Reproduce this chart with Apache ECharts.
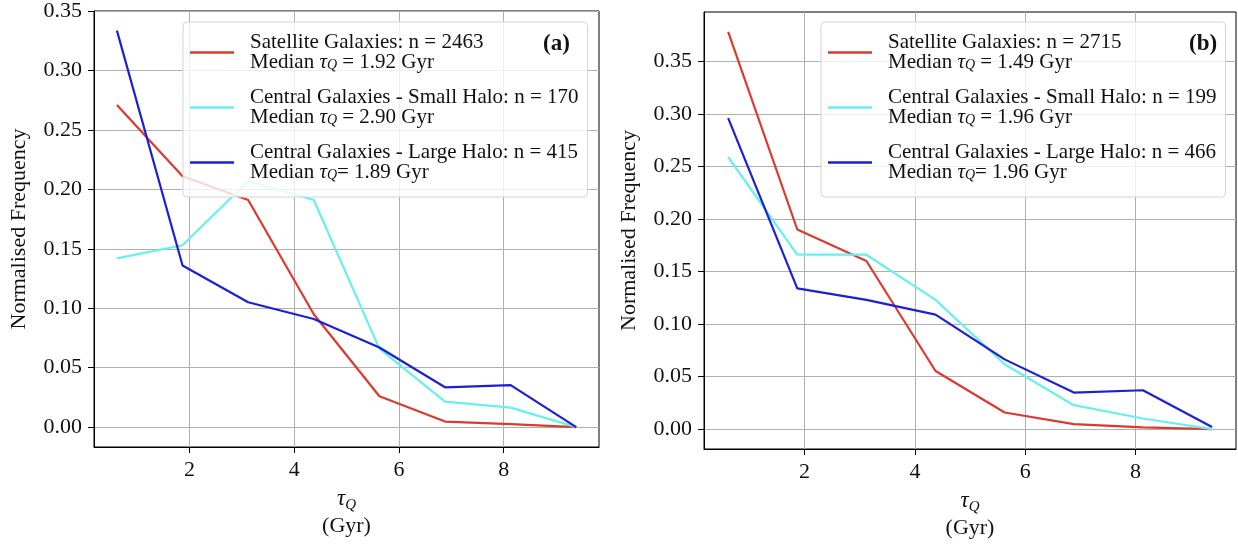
<!DOCTYPE html>
<html><head><meta charset="utf-8">
<script src="https://cdn.jsdelivr.net/npm/echarts@6/dist/echarts.min.js"></script>
<style>html,body{margin:0;padding:0;background:#fff}#c{width:1238px;height:550px}</style>
</head><body><div id="c"></div>
<script>
// bin centres (Gyr)
const tauCenters = [0.615, 1.868, 3.121, 4.374, 5.627, 6.880, 8.133, 9.385];
const xTickValues = [2, 4, 6, 8];
const yTickValues = [0, 0.05, 0.10, 0.15, 0.20, 0.25, 0.30, 0.35];

// panel (a)
const satA   = [0.271, 0.211, 0.191, 0.095, 0.026, 0.0047, 0.0025, 0.0];
const smallA = [0.142, 0.153, 0.207, 0.191, 0.066, 0.0215, 0.0164, 0.0];
const largeA = [0.3335, 0.136, 0.105, 0.091, 0.067, 0.0335, 0.0354, 0.0];
// panel (b)
const satB   = [0.378, 0.190, 0.160, 0.0553, 0.0158, 0.0047, 0.0016, 0.0];
const smallB = [0.259, 0.166, 0.166, 0.123, 0.0617, 0.0228, 0.0101, 0.0];
const largeB = [0.296, 0.134, 0.123, 0.109, 0.0664, 0.0348, 0.037, 0.002];

const namesA = ['Satellite Galaxies: n = 2463', 'Central Galaxies - Small Halo: n = 170', 'Central Galaxies - Large Halo: n = 415'];
const mediansA = [' = 1.92 Gyr', ' = 2.90 Gyr', '= 1.89 Gyr'];
const namesB = ['Satellite Galaxies: n = 2715', 'Central Galaxies - Small Halo: n = 199', 'Central Galaxies - Large Halo: n = 466'];
const mediansB = [' = 1.49 Gyr', ' = 1.96 Gyr', '= 1.96 Gyr'];
const panelTags = ['(a)', '(b)'];

const colors = ['#dc3a2e', '#66f0f0', '#1b20d4'];
const FONT = '"Liberation Serif", "Times New Roman", serif';

const medianOf = {};
namesA.forEach((n, i) => medianOf[n] = mediansA[i]);
namesB.forEach((n, i) => medianOf[n] = mediansB[i]);

const pair = (ys) => tauCenters.map((x, i) => [x, ys[i]]);

function xAxisDef(gi) {
  return {
    type: 'value', gridIndex: gi, min: 0.177, max: 9.82,
    axisLine: {show: true, onZero: false, lineStyle: {color: '#000', width: 1}},
    axisTick: {show: true, inside: false, length: 6, customValues: xTickValues, lineStyle: {color: '#000'}},
    axisLabel: {customValues: xTickValues, margin: 12, color: '#111', fontFamily: FONT, fontSize: 22},
    splitLine: {show: true, lineStyle: {color: '#b0b0b0', width: 1}},
    name: '{tau|τ}{sub|Q}\n{g|(Gyr)}',
    nameLocation: 'middle', nameGap: 38,
    nameTextStyle: {
      lineHeight: 27,
      rich: {
        tau: {fontFamily: FONT, fontStyle: 'italic', fontSize: 23, color: '#111', lineHeight: 27},
        sub: {fontFamily: FONT, fontStyle: 'italic', fontSize: 15, color: '#111', verticalAlign: 'bottom', lineHeight: 14},
        g: {fontFamily: FONT, fontSize: 22, color: '#111', lineHeight: 27}
      }
    }
  };
}
function yAxisDef(gi, min, max) {
  return {
    type: 'value', gridIndex: gi, min: min, max: max,
    axisLine: {show: true, onZero: false, lineStyle: {color: '#000', width: 1}},
    axisTick: {show: true, inside: false, length: 6, customValues: yTickValues, lineStyle: {color: '#000'}},
    axisLabel: {customValues: yTickValues, margin: 12, color: '#111', fontFamily: FONT, fontSize: 22,
      formatter: v => v.toFixed(2)},
    splitLine: {show: true, lineStyle: {color: '#b0b0b0', width: 1}},
    name: 'Normalised Frequency', nameLocation: 'middle', nameRotate: 90, nameGap: 64,
    nameTextStyle: {fontFamily: FONT, fontSize: 22, color: '#111'}
  };
}
function seriesDef(name, ys, ci, gi) {
  return {
    type: 'line', name: name, xAxisIndex: gi, yAxisIndex: gi, data: pair(ys),
    showSymbol: false, symbol: 'none', animation: false,
    lineStyle: {color: colors[ci], width: 2.2},
    itemStyle: {color: colors[ci]}
  };
}
const legendRich = {
  t: {fontFamily: FONT, fontSize: 21, color: '#111', lineHeight: 20},
  tau: {fontFamily: FONT, fontStyle: 'italic', fontSize: 21, color: '#111', lineHeight: 20},
  sub: {fontFamily: FONT, fontStyle: 'italic', fontSize: 14, color: '#111', verticalAlign: 'bottom', lineHeight: 12}
};
function legendDef(names, left) {
  return {
    data: names, orient: 'vertical', left: left, top: 22,
    selectedMode: false, icon: 'rect', itemWidth: 44, itemHeight: 2.5, itemGap: 14,
    padding: [10, 9, 14, 7],
    backgroundColor: 'rgba(255,255,255,0.8)', borderColor: '#d4d4d4', borderWidth: 1, borderRadius: 4,
    formatter: n => '{t|' + n + '}\n{t|Median }{tau|τ}{sub|Q}{t|' + medianOf[n] + '}',
    textStyle: {padding: [0, 0, 0, 11], rich: legendRich}
  };
}

const chart = echarts.init(document.getElementById('c'), null, {renderer: 'canvas'});
chart.setOption({
  backgroundColor: '#fff',
  animation: false,
  grid: [
    {left: 94, top: 10, width: 505, height: 437, show: true, borderColor: '#000', borderWidth: 1, backgroundColor: '#fff'},
    {left: 704, top: 12, width: 532, height: 437, show: true, borderColor: '#000', borderWidth: 1, backgroundColor: '#fff'}
  ],
  xAxis: [xAxisDef(0), xAxisDef(1)],
  yAxis: [yAxisDef(0, -0.0167, 0.35), yAxisDef(1, -0.0189, 0.397)],
  legend: [legendDef(namesA, 183), legendDef(namesB, 821)],
  series: [
    seriesDef(namesA[0], satA, 0, 0),
    seriesDef(namesA[1], smallA, 1, 0),
    seriesDef(namesA[2], largeA, 2, 0),
    seriesDef(namesB[0], satB, 0, 1),
    seriesDef(namesB[1], smallB, 1, 1),
    seriesDef(namesB[2], largeB, 2, 1)
  ],
  graphic: [
    {type: 'text', left: 543, top: 33, z: 100, style: {text: panelTags[0], font: 'bold 23px ' + FONT, fill: '#111'}},
    {type: 'text', left: 1189, top: 33, z: 100, style: {text: panelTags[1], font: 'bold 23px ' + FONT, fill: '#111'}}
  ]
});
</script></body></html>
